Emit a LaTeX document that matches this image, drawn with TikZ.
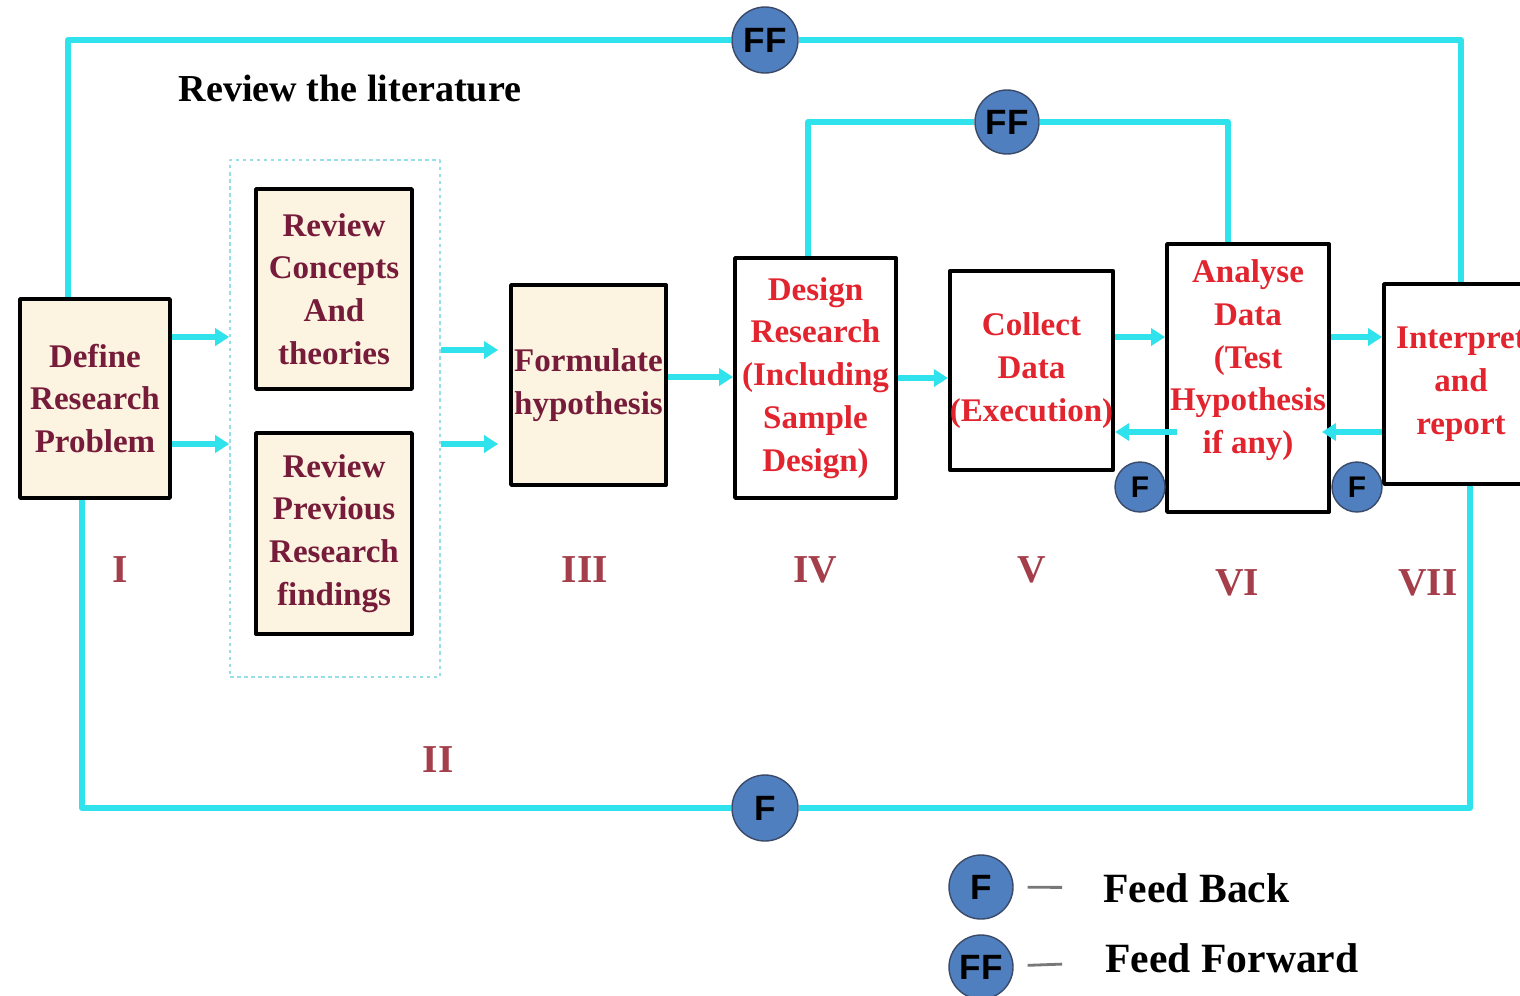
\documentclass[tikz,border=0pt]{standalone}
\usepackage{fontspec}
\setmainfont{Liberation Serif}
\newfontfamily\circfont{Liberation Sans}
\usepackage{tikz}
\usetikzlibrary{shapes.geometric,arrows.meta,calc,positioning}
\definecolor{beige}{RGB}{252,244,224}
\definecolor{maroon}{RGB}{118,28,58}
\definecolor{boxred}{RGB}{226,36,46}
\definecolor{numred}{RGB}{164,62,74}
\definecolor{feedcyan}{RGB}{48,226,236}
\definecolor{circblue}{RGB}{79,127,190}
\definecolor{circrim}{RGB}{58,74,104}
\definecolor{dashcyan}{RGB}{150,222,232}
\definecolor{legendgray}{RGB}{120,120,120}

\begin{document}
\begin{tikzpicture}[x=0.02cm, y=-0.02cm, line join=round]
   \useasboundingbox (0,0) rectangle (1520,995);
   \clip (0,0) rectangle (1520,995);
   \node (title) at (350,88) {\fontsize{21.7}{26}\selectfont\bfseries Review the literature};
   \node (lit) [draw=dashcyan, line width=0.9pt, dash pattern=on 2pt off 2pt, minimum width=4.2cm, minimum height=10.34cm] at (335,418.5) {};
   \begin{scope}[every node/.style={draw=black, line width=2.2pt, fill=beige, text=maroon, align=center, inner xsep=0pt, font=\fontsize{18.8}{24.4}\selectfont\bfseries}]
    \node (define) [minimum width=3.0cm, minimum height=3.98cm] at (95,398.5) {Define\\Research\\Problem};
    \node (concepts) [minimum width=3.12cm, minimum height=4.0cm] at (334,289) {Review\\Concepts\\And\\theories};
    \node (previous) [minimum width=3.12cm, minimum height=4.02cm] at (334,533.5) {Review\\Previous\\Research\\findings};
    \node (formulate) [minimum width=3.1cm, minimum height=4.0cm] at (588.5,385) {Formulate\\hypothesis};
   \end{scope}
   \begin{scope}[every node/.style={draw=black, line width=2.2pt, fill=white, text=boxred, align=center, inner xsep=0pt, font=\fontsize{18.8}{24.4}\selectfont\bfseries}]
    \node (design) [minimum width=3.22cm, minimum height=4.8cm] at (815.5,378) {Design\\Research\\(Including\\Sample\\Design)};
    \node (collect) [minimum width=3.26cm, minimum height=3.98cm] at (1031.5,370.5) {Collect\\Data\\(Execution)};
    \node (analyse) [minimum width=3.24cm, minimum height=5.36cm] at (1248,378) {Analyse\\Data\\(Test\\Hypothesis\\if any)\\\mbox{}};
    \node (interpret) [minimum width=3.08cm, minimum height=4.0cm] at (1461,384) {Interpret\\and\\report};
   \end{scope}
   \begin{scope}[every node/.style={text=numred, font=\fontsize{22.5}{27}\selectfont\bfseries}]
    \node (num1) at (120,570) {I};
    \node (num2) at (438,760) {II};
    \node (num3) at (585,570) {III};
    \node (num4) at (815,570) {IV};
    \node (num5) at (1032,570) {V};
    \node (num6) at (1237,583) {VI};
    \node (num7) at (1428,583) {VII};
   \end{scope}
   \begin{scope}[every node/.style={circle, draw=circrim, line width=0.8pt, fill=circblue, text=black, inner sep=0pt, font=\circfont\bfseries\fontsize{20}{24}\selectfont}]
    \node (ff1) [minimum size=1.32cm] at (765,40) {FF};
    \node (ff2) [minimum size=1.28cm] at (1007,122) {FF};
    \node (fb1) [minimum size=1.32cm] at (765,808) {F};
    \node (fb2) [minimum size=1.0cm, font=\circfont\bfseries\fontsize{17}{20}\selectfont] at (1140,487) {F};
    \node (fb3) [minimum size=1.0cm, font=\circfont\bfseries\fontsize{17}{20}\selectfont] at (1357,487) {F};
    \node (fbk) [minimum size=1.28cm] at (981,887) {F};
    \node (fff) [minimum size=1.28cm] at (981,967) {FF};
   \end{scope}
   % legend texts
   \begin{scope}[every node/.style={anchor=west, inner sep=0pt, font=\fontsize{23.7}{28}\selectfont\bfseries}]
    \node (fbtext) at (1103,888) {Feed Back};
    \node (fftext) at (1105,958) {Feed Forward};
   \end{scope}
   \draw[legendgray, line width=1.6pt, shorten <=0.28cm, shorten >=0.82cm] (fbk) -- (fbtext);
   \draw[legendgray, line width=1.6pt, shorten <=0.28cm, shorten >=0.86cm] (fff) -- (fftext);
   % feed forward and feed back lines
   \begin{scope}[draw=feedcyan, line width=3.4pt]
    \draw ([xshift=-0.54cm]define.north) |- (ff1.west);
    \draw (ff1.east) -| (interpret.north);
    \draw ([xshift=-0.15cm]design.north) |- (ff2.west);
    \draw (ff2.east) -| ([xshift=-0.4cm]analyse.north);
    \draw ([xshift=0.18cm]interpret.south) |- (fb1.east);
    \draw (fb1.west) -| ([xshift=-0.26cm]define.south);
   \end{scope}
   \begin{scope}[every edge/.style={draw=feedcyan, line width=3.8pt, -{Triangle[length=0.28cm,width=0.34cm]}}]
    \draw ([yshift=1.23cm]define.east) edge ([yshift=1.23cm]define.east -| lit.west);
    \draw ([yshift=-0.91cm]define.east) edge ([yshift=-0.91cm]define.east -| lit.west);
    \draw ([yshift=0.7cm]formulate.west -| lit.east) edge[shorten >=0.22cm] ([yshift=0.7cm]formulate.west);
    \draw ([yshift=-1.18cm]formulate.west -| lit.east) edge[shorten >=0.22cm] ([yshift=-1.18cm]formulate.west);
    \draw ([yshift=0.16cm]formulate.east) edge ([yshift=0.16cm]formulate.east -| design.west);
    \draw (design.east) edge (design.east -| collect.west);
    \draw ([yshift=0.67cm]collect.east) edge ([yshift=0.67cm]collect.east -| analyse.west);
    \draw ([yshift=-1.08cm]analyse.west) edge[shorten <=-0.24cm] ([yshift=-1.08cm]analyse.west -| collect.east);
    \draw ([yshift=0.82cm]analyse.east) edge ([yshift=0.82cm]analyse.east -| interpret.west);
    \draw ([yshift=-0.96cm]interpret.west) edge[shorten >=-0.18cm] ([yshift=-0.96cm]interpret.west -| analyse.east);
   \end{scope}
\end{tikzpicture}
\end{document}
